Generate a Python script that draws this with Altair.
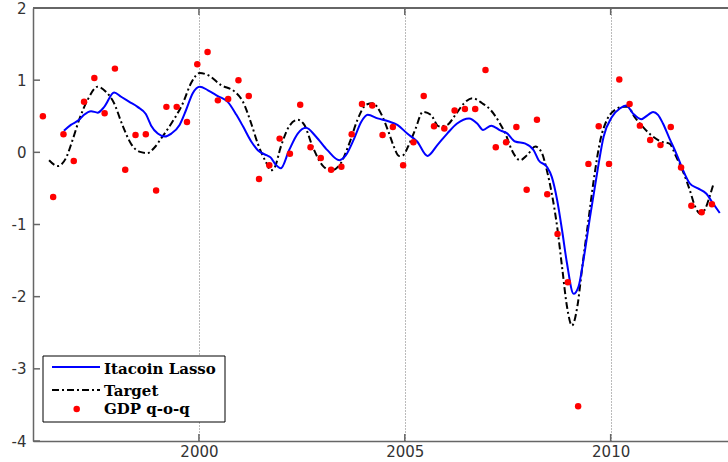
import altair as alt
import pandas as pd

# ---------------- data ----------------
gdp_qoq = [0.50, -0.62, 0.25, -0.12, 0.70, 1.03, 0.54, 1.16, -0.24, 0.24,
           0.25, -0.53, 0.63, 0.63, 0.42, 1.22, 1.39, 0.72, 0.74, 1.00,
           0.78, -0.37, -0.18, 0.19, -0.02, 0.66, 0.07, -0.08, -0.24, -0.20,
           0.25, 0.67, 0.65, 0.24, 0.35, -0.18, 0.14, 0.78, 0.36, 0.33,
           0.58, 0.60, 0.60, 1.14, 0.07, 0.14, 0.35, -0.52, 0.45, -0.58,
           -1.13, -1.80, -3.52, -0.16, 0.36, -0.16, 1.01, 0.67, 0.37, 0.17,
           0.10, 0.35, -0.21, -0.74, -0.83, -0.72]
# quarterly time positions (1996Q1 ...)
gdp_t = [round(1996.21 + 0.25 * i, 2) for i in range(len(gdp_qoq))]

lasso_t = [1996.72, 1996.89, 1997.09, 1997.21, 1997.38, 1997.54, 1997.70, 1997.94,
           1998.11, 1998.31, 1998.51, 1998.71, 1998.84, 1999.00, 1999.17, 1999.33,
           1999.53, 1999.69, 1999.85, 2000.02, 2000.22, 2000.46, 2000.70, 2000.91,
           2001.07, 2001.27, 2001.43, 2001.64, 2001.74, 2001.85, 2001.99, 2002.19,
           2002.40, 2002.60, 2002.84, 2003.12, 2003.41, 2003.57, 2003.77, 2003.94,
           2004.10, 2004.34, 2004.60, 2004.82, 2005.06, 2005.30, 2005.55, 2005.79,
           2006.03, 2006.27, 2006.56, 2006.76, 2006.90, 2007.10, 2007.33, 2007.47,
           2007.68, 2007.93, 2008.13, 2008.25, 2008.45, 2008.57, 2008.70, 2008.82,
           2008.94, 2009.10, 2009.22, 2009.34, 2009.50, 2009.67, 2009.83, 2010.03,
           2010.23, 2010.38, 2010.54, 2010.74, 2010.91, 2011.03, 2011.15, 2011.27,
           2011.43, 2011.59, 2011.76, 2011.92, 2012.12, 2012.32, 2012.49, 2012.65]
lasso_v = [0.30, 0.38, 0.45, 0.52, 0.57, 0.55, 0.63, 0.83,
           0.77, 0.70, 0.63, 0.53, 0.37, 0.26, 0.22, 0.26,
           0.38, 0.59, 0.82, 0.91, 0.86, 0.78, 0.70, 0.52,
           0.36, 0.15, 0.03, -0.04, -0.07, -0.16, -0.22, 0.03,
           0.26, 0.34, 0.22, 0.03, -0.11, -0.04, 0.19, 0.42,
           0.52, 0.47, 0.43, 0.38, 0.26, 0.15, -0.05, 0.10,
           0.26, 0.40, 0.47, 0.40, 0.31, 0.37, 0.30, 0.27,
           0.15, 0.12, 0.03, -0.11, -0.20, -0.34, -0.66, -1.08,
           -1.54, -1.96, -1.86, -1.49, -0.89, -0.29, 0.22, 0.49,
           0.61, 0.65, 0.54, 0.46, 0.52, 0.56, 0.52, 0.40,
           0.19, -0.01, -0.25, -0.43, -0.50, -0.57, -0.71, -0.84]

target_t = [1996.36, 1996.57, 1996.77, 1996.93, 1997.09, 1997.30, 1997.54, 1997.74,
            1997.94, 1998.14, 1998.35, 1998.55, 1998.75, 1998.91, 1999.08, 1999.33,
            1999.61, 1999.81, 2000.02, 2000.22, 2000.54, 2000.87, 2001.07, 2001.27,
            2001.43, 2001.64, 2001.74, 2001.83, 2001.99, 2002.19, 2002.40, 2002.56,
            2002.76, 2003.00, 2003.21, 2003.41, 2003.65, 2003.85, 2004.06, 2004.22,
            2004.42, 2004.62, 2004.72, 2004.86, 2004.96, 2005.08, 2005.25, 2005.44,
            2005.63, 2005.83, 2006.03, 2006.23, 2006.44, 2006.64, 2006.88, 2007.08,
            2007.29, 2007.45, 2007.60, 2007.80, 2007.97, 2008.17, 2008.33, 2008.45,
            2008.57, 2008.70, 2008.82, 2008.94, 2009.06, 2009.19, 2009.31, 2009.46,
            2009.59, 2009.75, 2009.91, 2010.11, 2010.31, 2010.42, 2010.58, 2010.74,
            2010.98, 2011.22, 2011.43, 2011.59, 2011.76, 2011.92, 2012.05, 2012.18,
            2012.30, 2012.40, 2012.49]
target_v = [-0.11, -0.19, -0.08, 0.17, 0.45, 0.73, 0.91, 0.84,
            0.68, 0.38, 0.12, 0.01, -0.01, 0.06, 0.19, 0.40,
            0.68, 0.96, 1.10, 1.07, 0.93, 0.84, 0.70, 0.40,
            0.12, -0.15, -0.25, -0.22, 0.08, 0.36, 0.45, 0.38,
            0.08, -0.18, -0.25, -0.18, 0.12, 0.45, 0.66, 0.68,
            0.54, 0.26, 0.10, -0.05, -0.04, 0.08, 0.31, 0.56,
            0.52, 0.36, 0.38, 0.52, 0.68, 0.75, 0.68, 0.59,
            0.42, 0.25, 0.03, -0.11, -0.04, 0.08, -0.01, -0.25,
            -0.57, -1.03, -1.59, -2.14, -2.40, -2.14, -1.59, -0.94,
            -0.38, 0.17, 0.45, 0.59, 0.63, 0.63, 0.49, 0.38,
            0.24, 0.15, 0.12, -0.06, -0.27, -0.52, -0.75, -0.85,
            -0.78, -0.62, -0.45]

year_ticks = [2000, 2005, 2010]
y_ticks = [-4, -3, -2, -1, 0, 1, 2]
legend_labels = ["Itacoin Lasso", "Target", "GDP q-o-q"]

# ---------------- chart ----------------
X0, X1 = 1995.97, 2012.85
Y0, Y1 = -4, 2
W, H = 695, 433
AXC = "#666666"

xs = alt.Scale(domain=[X0, X1], nice=False, zero=False)
ys = alt.Scale(domain=[Y0, Y1], nice=False, zero=False)

X_AX = alt.Axis(values=year_ticks, format="d", title=None, grid=True, ticks=False)
Y_AX = alt.Axis(values=y_ticks, title=None, grid=False, ticks=False,
                labelExpr="'' + datum.value")


def xe(field):
    return alt.X(field, scale=xs, axis=X_AX)


def ye(field):
    return alt.Y(field, scale=ys, axis=Y_AX)


gdp_df = pd.DataFrame({"t": gdp_t, "v": gdp_qoq})
lasso_df = pd.DataFrame({"t": lasso_t, "v": lasso_v})
target_df = pd.DataFrame({"t": target_t, "v": target_v})

target = alt.Chart(target_df).mark_line(
    color="black", strokeWidth=2, strokeDash=[7, 3, 2, 3], interpolate="monotone", clip=True
).encode(x=xe("t:Q"), y=ye("v:Q"))

lasso = alt.Chart(lasso_df).mark_line(
    color="#0000ff", strokeWidth=2, interpolate="monotone", clip=True
).encode(x=xe("t:Q"), y=ye("v:Q"))

points = alt.Chart(gdp_df).mark_point(
    filled=True, shape="circle", size=42, color="#ff0000", opacity=1, clip=True
).encode(x=xe("t:Q"), y=ye("v:Q"))

# inward tick marks (left, bottom, top) and top frame line
ytick_df = pd.DataFrame({"t": [X0] * len(y_ticks), "v": y_ticks,
                         "t2": [X0 + 7 / (W / (X1 - X0))] * len(y_ticks)})
yticks = alt.Chart(ytick_df).mark_rule(color=AXC, strokeWidth=1.5).encode(
    x=xe("t:Q"), x2="t2:Q", y=ye("v:Q"))
tick_len = 7 / (H / (Y1 - Y0))
xtick_df = pd.DataFrame({
    "t": year_ticks * 2,
    "v": [Y0] * 3 + [Y1] * 3,
    "v2": [Y0 + tick_len] * 3 + [Y1 - tick_len] * 3,
})
xticks = alt.Chart(xtick_df).mark_rule(color=AXC, strokeWidth=1.5).encode(
    x=xe("t:Q"), y=ye("v:Q"), y2="v2:Q")
top_df = pd.DataFrame({"t": [X0], "t2": [X1], "v": [Y1]})
topline = alt.Chart(top_df).mark_rule(color=AXC, strokeWidth=2).encode(
    x=xe("t:Q"), x2="t2:Q", y=ye("v:Q"))

# legend box (pixel positions inside the plot area)
one = alt.Data(values=[{"a": 1}])
lbox = alt.Chart(one).mark_rect(fill="white", stroke="black", strokeWidth=1).encode(
    x=alt.value(10), x2=alt.value(192), y=alt.value(348), y2=alt.value(414))
l1 = alt.Chart(one).mark_rule(color="#0000ff", strokeWidth=2).encode(
    x=alt.value(19), x2=alt.value(67), y=alt.value(359))
l2 = alt.Chart(one).mark_rule(color="black", strokeWidth=2, strokeDash=[7, 3, 2, 3]).encode(
    x=alt.value(19), x2=alt.value(67), y=alt.value(382))
l3 = alt.Chart(one).mark_point(filled=True, shape="circle", size=42, color="#ff0000", opacity=1).encode(
    x=alt.value(43.7), y=alt.value(401))
txts = []
for lab, yy in zip(legend_labels, [366, 388, 406]):
    txts.append(alt.Chart(one).mark_text(
        text=lab, font="DejaVu Serif", fontWeight="bold", fontSize=15,
        color="black", align="left", baseline="alphabetic"
    ).encode(x=alt.value(71), y=alt.value(yy)))

chart = alt.layer(target, lasso, points, yticks, xticks, topline,
                  lbox, l1, l2, l3, *txts).properties(
    width=W, height=H,
    padding={"left": 33, "top": 8, "right": 0, "bottom": 21},
    autosize=alt.AutoSizeParams(type="none"),
).configure_view(stroke=None).configure(background="white").configure_axis(
    domainColor=AXC, domainWidth=1.5, labelFont="DejaVu Sans",
    labelFontSize=15, labelColor="#333333",
).configure_axisX(
    gridDash=[1, 2], gridColor="#777777", gridWidth=1, labelPadding=3,
).configure_axisY(labelPadding=7)

chart.save("out.html", embed_options={"renderer": "svg", "actions": False})
